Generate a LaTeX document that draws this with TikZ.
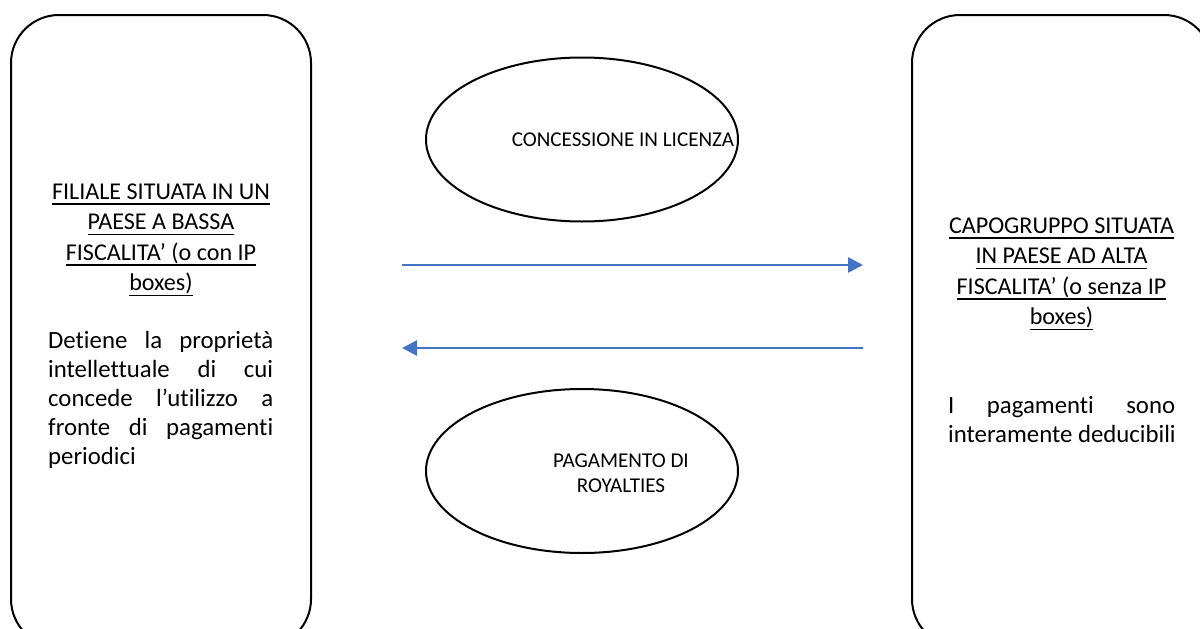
\documentclass[tikz,border=0pt]{standalone}
\usepackage{fontspec}
\setmainfont{Carlito}[Ligatures=CommonOff]
\usetikzlibrary{shapes.geometric,arrows.meta}
\definecolor{arrowblue}{HTML}{4472C4}
\newcommand\myul[1]{\setbox0\hbox{#1}\rlap{\rule[-5.6pt]{\wd0}{1.6pt}}\box0}
\tikzset{
  bigbox/.style={draw=black, line width=2pt, rounded corners=48pt, minimum width=300pt, minimum height=632pt, inner sep=0pt},
  oval/.style={draw=black, line width=2pt, ellipse, minimum width=312pt, minimum height=164pt, inner sep=0pt},
  tl/.style={anchor=base, inner sep=0pt, font=\fontsize{24.1}{29}\selectfont},
  bl/.style={anchor=base west, inner sep=0pt, font=\fontsize{24.8}{29}\selectfont},
  ol/.style={anchor=base, inner sep=0pt, font=\fontsize{21.1}{25}\selectfont},
  flow/.style={draw=arrowblue, line width=2.6pt, -{Triangle[length=15pt,width=15pt]}}
}
\begin{document}
\begin{tikzpicture}[x=1pt,y=-1pt]
\useasboundingbox (0,0) rectangle (1200,629);
\clip (0,0) rectangle (1200,629);
\fill[white] (0,0) rectangle (1200,629);
% boxes
\node[bigbox] (L) at (161,331) {};
\node[bigbox] (R) at (1062,331) {};
% left box title
\node[tl] (Lt1) at (161,199) {\myul{FILIALE SITUATA IN UN}};
\node[tl] (Lt2) at (161,229.5) {\myul{PAESE A BASSA}};
\node[tl] (Lt3) at (161,260) {\myul{FISCALITA’ (o con IP}};
\node[tl] (Lt4) at (161,290.5) {\myul{boxes)}};
% left box body
\node[bl] (Lb1) at (48,348) {\hbox to 225pt{Detiene\hfill la\hfill proprietà}};
\node[bl] (Lb2) at (48,377) {\hbox to 225pt{intellettuale\hfill di\hfill cui}};
\node[bl] (Lb3) at (48,406) {\hbox to 225pt{concede\hfill l’utilizzo\hfill a}};
\node[bl] (Lb4) at (48,435) {\hbox to 225pt{fronte\hfill di\hfill pagamenti}};
\node[bl] (Lb5) at (48,464) {periodici};
% right box title
\node[tl] (Rt1) at (1061.5,233) {\myul{CAPOGRUPPO SITUATA}};
\node[tl] (Rt2) at (1061.5,263.5) {\myul{IN PAESE AD ALTA}};
\node[tl] (Rt3) at (1061.5,294) {\myul{FISCALITA’ (o senza IP}};
\node[tl] (Rt4) at (1061.5,324.5) {\myul{boxes)}};
% right box body
\node[bl] (Rb1) at (948,413) {\hbox to 227pt{I\hfill pagamenti\hfill sono}};
\node[bl] (Rb2) at (948,442) {interamente deducibili};
% ellipses
\node[oval] (E1) at (582,139.5) {};
\node[oval] (E2) at (582,471) {};
\node[ol] (E1t) at (623,146) {CONCESSIONE IN LICENZA};
\node[ol] (E2t1) at (621,467) {PAGAMENTO DI};
\node[ol] (E2t2) at (621,492) {ROYALTIES};
% arrows
\coordinate (a1s) at (402,265);
\coordinate (a1e) at (863,265);
\coordinate (a2s) at (863,348);
\coordinate (a2e) at (402,348);
\draw[flow] (a1s) -- (a1e);
\draw[flow] (a2s) -- (a2e);
\end{tikzpicture}
\end{document}
